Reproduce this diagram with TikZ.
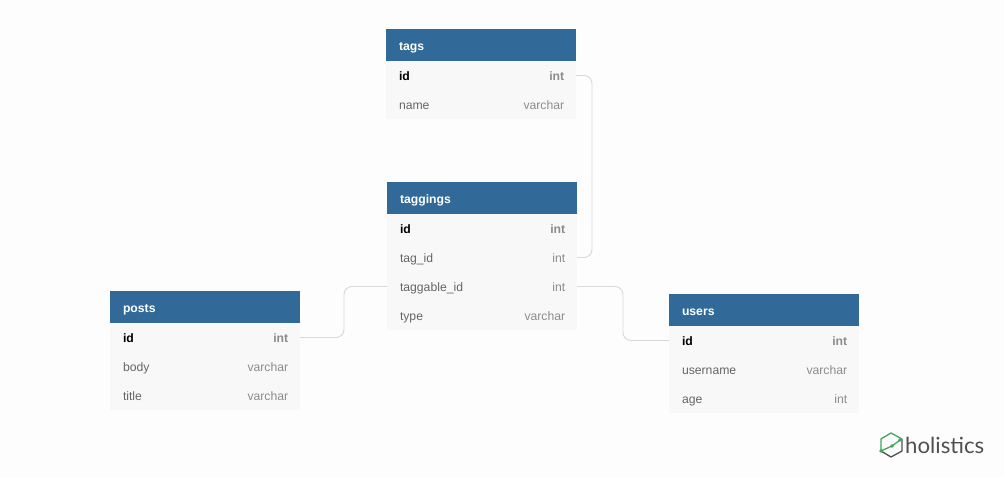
\documentclass[tikz,border=0pt]{standalone}
\usepackage{fontspec}
\setmainfont{Liberation Sans}
\newfontfamily\logofont{Lato}
\usetikzlibrary{positioning}

\definecolor{pagebg}{HTML}{FDFDFD}
\definecolor{headblue}{HTML}{316A99}
\definecolor{rowgrey}{HTML}{F8F8F8}
\definecolor{textgrey}{HTML}{666666}
\definecolor{typegrey}{HTML}{8C8C8C}
\definecolor{linkgrey}{HTML}{D9D9D9}
\definecolor{logogreen}{HTML}{3DA85A}
\definecolor{logogrey}{HTML}{505050}

\begin{document}
\begin{tikzpicture}[x=1pt,y=-1pt,font=\fontsize{12.2}{14}\selectfont,
                    link/.style={draw=linkgrey,line width=0.9pt,rounded corners=8pt}]
  \tikzstyle{tablehead}=[fill=headblue,text=white,font=\fontsize{12.2}{14}\selectfont\bfseries,
    minimum width=190pt,minimum height=32pt,text width=164pt,text height=14pt,text depth=3pt,
    inner xsep=13pt,inner ysep=0pt,outer sep=0pt,align=left]
  \tikzstyle{colrow}=[fill=rowgrey,text=textgrey,minimum width=190pt,minimum height=29pt,
    text width=164pt,text height=13pt,text depth=3pt,inner xsep=13pt,inner ysep=0pt,outer sep=0pt,align=left]
  \tikzstyle{keyrow}=[colrow,text=black,font=\fontsize{12.2}{14}\selectfont\bfseries]
  \tikzstyle{coltype}=[anchor=east,text=typegrey,text height=13pt,text depth=3pt,inner xsep=11.6pt,inner ysep=0pt]
  \tikzstyle{keytype}=[coltype,font=\fontsize{12.2}{14}\selectfont\bfseries]

  \useasboundingbox[fill=pagebg] (0,0) rectangle (1004,478);

  % tags
  \node[tablehead] (tags) at (481,45) {tags};
  \node[keyrow] (tagsid)   [below=0pt of tags]   {id};
  \node[colrow] (tagsname) [below=0pt of tagsid] {name};
  \node[keytype] (tagsidtype)   at (tagsid.east)   {int};
  \node[coltype] (tagsnametype) at (tagsname.east) {varchar};

  % taggings
  \node[tablehead] (taggings) at (482,198) {taggings};
  \node[keyrow] (taggingsid)  [below=0pt of taggings]   {id};
  \node[colrow] (tagid)       [below=0pt of taggingsid] {tag\_id};
  \node[colrow] (taggableid)  [below=0pt of tagid]      {taggable\_id};
  \node[colrow] (taggingtype) [below=0pt of taggableid] {type};
  \node[keytype] (taggingsidtype)  at (taggingsid.east)  {int};
  \node[coltype] (tagidtype)       at (tagid.east)       {int};
  \node[coltype] (taggableidtype)  at (taggableid.east)  {int};
  \node[coltype] (taggingtypetype) at (taggingtype.east) {varchar};

  % posts
  \node[tablehead] (posts) at (205,307) {posts};
  \node[keyrow] (postsid)    [below=0pt of posts]    {id};
  \node[colrow] (postsbody)  [below=0pt of postsid]  {body};
  \node[colrow] (poststitle) [below=0pt of postsbody]{title};
  \node[keytype] (postsidtype)    at (postsid.east)    {int};
  \node[coltype] (postsbodytype)  at (postsbody.east)  {varchar};
  \node[coltype] (poststitletype) at (poststitle.east) {varchar};

  % users
  \node[tablehead] (users) at (764,310) {users};
  \node[keyrow] (usersid)   [below=0pt of users]    {id};
  \node[colrow] (username)  [below=0pt of usersid]  {username};
  \node[colrow] (usersage)  [below=0pt of username] {age};
  \node[keytype] (usersidtype)  at (usersid.east)  {int};
  \node[coltype] (usernametype) at (username.east) {varchar};
  \node[coltype] (usersagetype) at (usersage.east) {int};

  % links
  \draw[link] (tagsid.east) -- ++(16,0) |- (tagid.east);
  \draw[link] (postsid.east) -- ++(44,0) |- (taggableid.west);
  \draw[link] (taggableid.east) -- ++(46,0) |- (usersid.west);

  % logo
  \draw[logogrey,line width=1.3pt,line join=round] (902,439) -- (902,451) -- (891,457) -- (881,451);
  \draw[logogreen,line width=1.3pt,line join=round] (881,451) -- (881,439) -- (891,433) -- (902,439)
    (900,440) -- (892,446) -- (881,451);
  \fill[logogreen] (881,451) circle (1.8) (892,446) circle (1.8) (900,440) circle (1.8);
  \node[text=logogrey,anchor=west,inner sep=0pt,font=\logofont\fontsize{22.2}{24}\selectfont] (logo) at (905,445) {holistics};
\end{tikzpicture}
\end{document}
